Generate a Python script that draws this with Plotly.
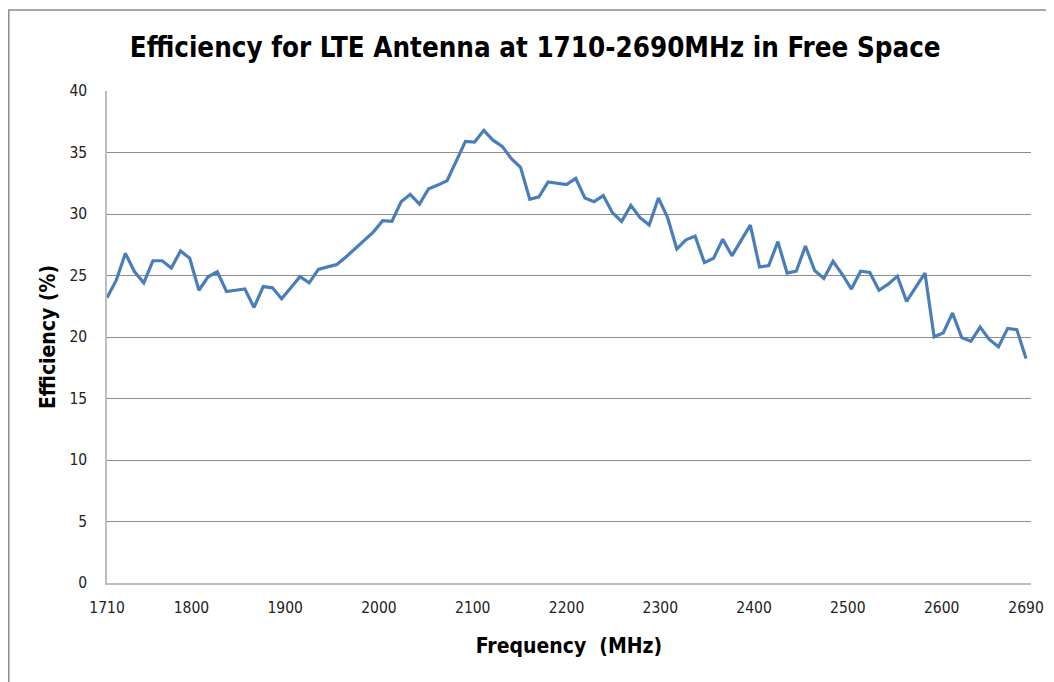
import numpy as np
import plotly.graph_objects as go

# Efficiency (%), 101 evenly spaced samples from 1710 to 2690 MHz
efficiency = [
    23.2, 24.6, 26.8, 25.3, 24.4, 26.2, 26.2, 25.6, 27.0, 26.4,
    23.8, 24.9, 25.3, 23.7, 23.8, 23.9, 22.4, 24.1, 24.0, 23.1,
    24.0, 24.9, 24.4, 25.5, 25.7, 25.9, 26.5, 27.2, 27.9, 28.55,
    29.45, 29.4, 31.0, 31.6, 30.8, 32.05, 32.35, 32.7, 34.3, 35.9,
    35.85, 36.8, 36.0, 35.5, 34.5, 33.8, 31.2, 31.4, 32.6, 32.5,
    32.4, 32.9, 31.3, 31.0, 31.5, 30.1, 29.4, 30.7, 29.7, 29.1,
    31.3, 29.7, 27.15, 27.9, 28.2, 26.05, 26.4, 27.95, 26.6, 27.85,
    29.1, 25.7, 25.8, 27.75, 25.2, 25.35, 27.4, 25.4, 24.75, 26.15,
    25.1, 23.9, 25.35, 25.25, 23.8, 24.3, 24.95, 22.9, 24.05, 25.2,
    20.0, 20.35, 21.95, 19.95, 19.65, 20.8, 19.8, 19.2, 20.7, 20.6,
    18.25,
]
frequency = list(np.linspace(1710, 2690, len(efficiency)))

tick_vals = [1710, 1800, 1900, 2000, 2100, 2200, 2300, 2400, 2500, 2600, 2690]
tick_text = ["1710", "1800", "1900", "2000", "2100", "2200", "2300", "2400", "2500", "2600", "2690"]
y_ticks = [0, 5, 10, 15, 20, 25, 30, 35, 40]

FONT = "Liberation Sans Narrow, DejaVu Sans Condensed, Arial Narrow, sans-serif"

# The page body has an 8px margin, so the figure is drawn 8px smaller than the window
W, H = 1046, 674
L, R, T, B = 99, 23, 83, 99
PW, PH = W - L - R, H - T - B

fig = go.Figure()
fig.add_trace(go.Scatter(
    x=frequency, y=efficiency, mode="lines",
    line=dict(color="#4a7ebb", width=3.2),
    showlegend=False, hoverinfo="skip",
))

fig.update_layout(
    width=W, height=H,
    margin=dict(l=L, r=R, t=T, b=B, autoexpand=False),
    paper_bgcolor="white", plot_bgcolor="white",
    title=dict(
        text="<b>Efficiency for LTE Antenna at 1710-2690MHz in Free Space</b>",
        x=0.504, xanchor="center", y=0.942, yanchor="middle",
        font=dict(family=FONT, size=27.5, color="black"),
    ),
    xaxis=dict(
        automargin=False,
        range=[1710, 2695.3],
        tickmode="array", tickvals=tick_vals, ticktext=tick_text,
        showgrid=False, zeroline=False,
        showline=True, linecolor="#bdbdbd", linewidth=1.5,
        ticks="", ticklen=0, ticklabelstandoff=10,
        tickfont=dict(family=FONT, size=15.5, color="#222222"),
        title=dict(text="<b>Frequency  (MHz)</b>",
                   font=dict(family=FONT, size=21, color="black"), standoff=22),
    ),
    yaxis=dict(
        automargin=False,
        range=[0, 40],
        tickmode="array", tickvals=y_ticks,
        showgrid=True, gridcolor="#8c8c8c", gridwidth=1,
        zeroline=False,
        showline=True, linecolor="#bdbdbd", linewidth=1.5,
        ticks="", ticklen=0, ticklabelstandoff=15,
        tickfont=dict(family=FONT, size=15.5, color="#222222"),
        title=dict(text="<b>Efficiency (%)</b>",
                   font=dict(family=FONT, size=21, color="black"), standoff=8),
    ),
)

# Outer chart frame (figure pixel positions converted to paper coordinates)
fig.add_shape(type="rect", xref="paper", yref="paper",
              x0=(0.8 - L) / PW, x1=(1039 - L) / PW,
              y0=-0.4, y1=(H - B - 2) / PH,
              line=dict(color="#8c8c8c", width=1.5), fillcolor="rgba(0,0,0,0)",
              layer="below")

fig.write_html("out.html")
